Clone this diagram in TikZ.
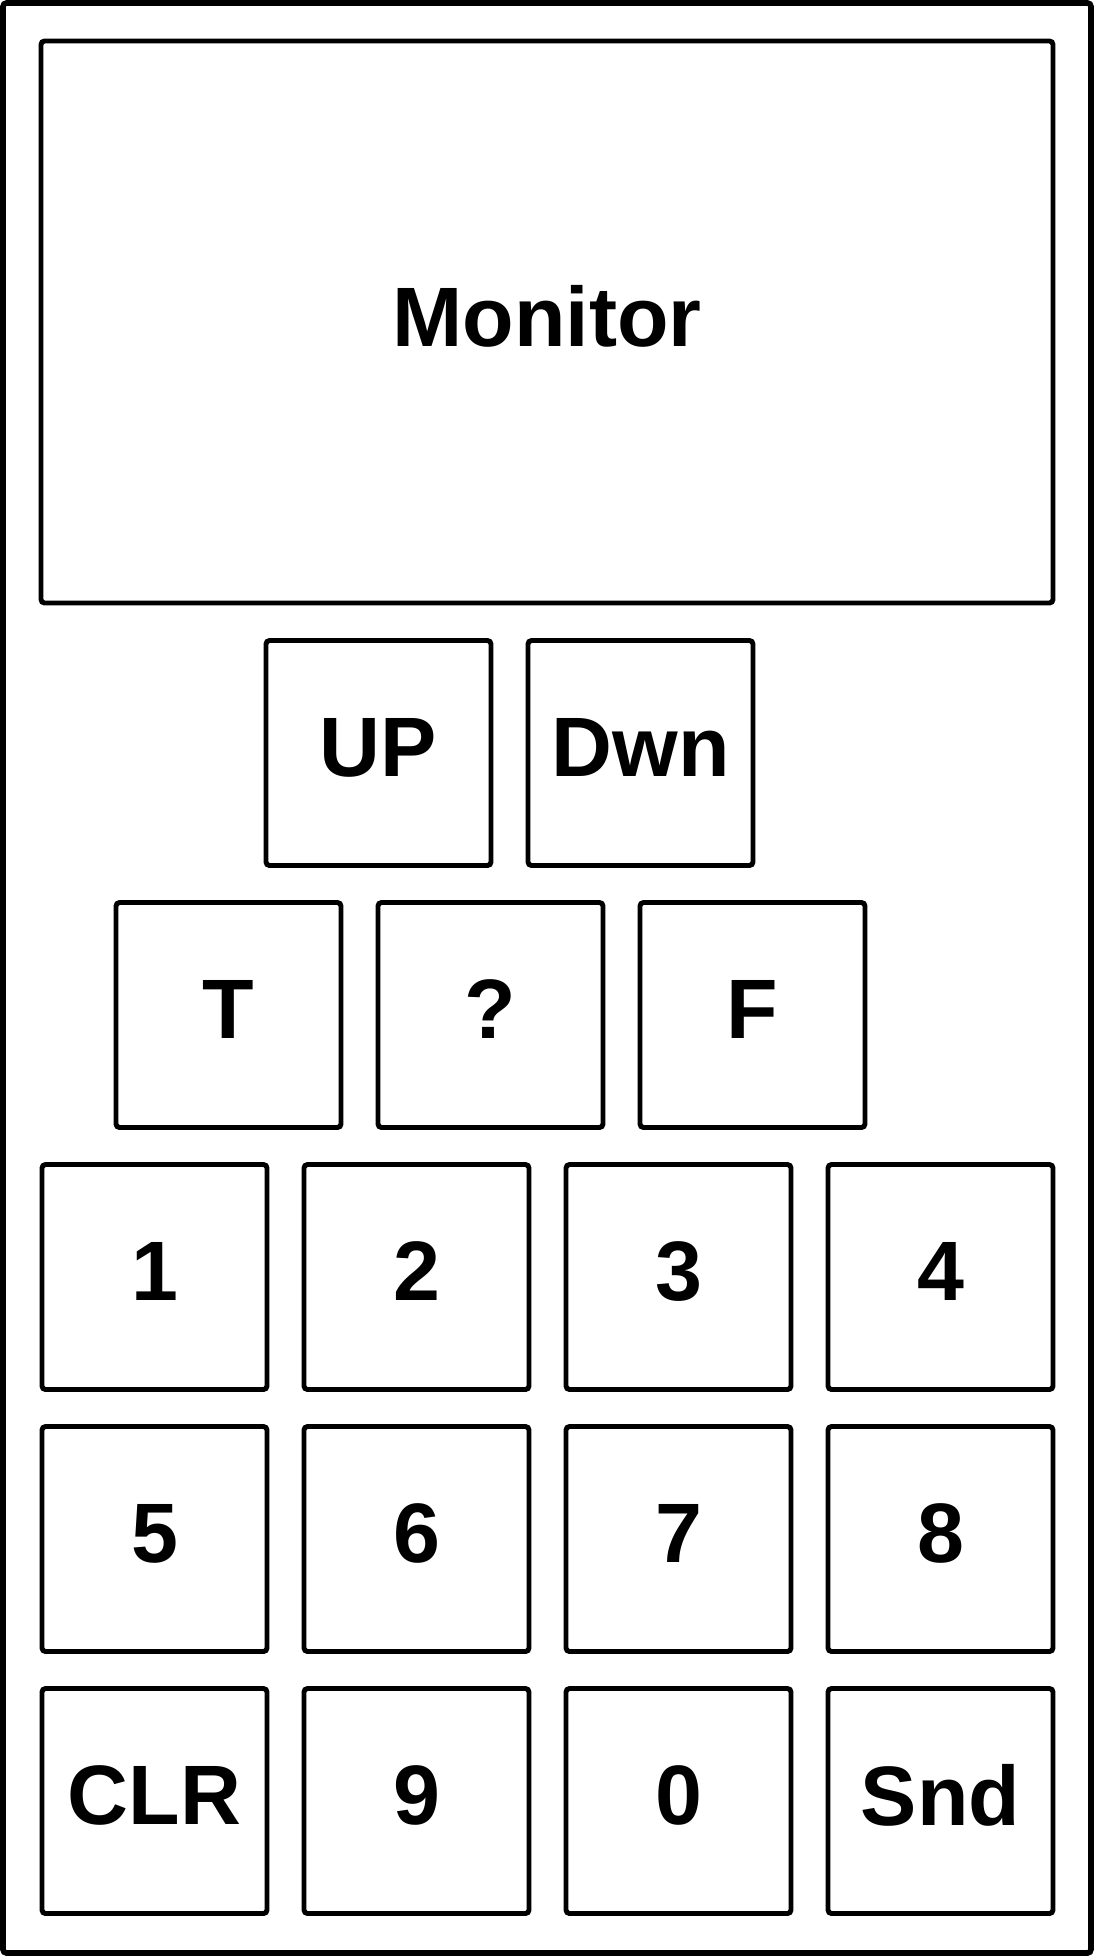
\documentclass[tikz,border=0pt]{standalone}
\usepackage{fontspec}
\setmainfont{Liberation Sans}
\usetikzlibrary{positioning}

\begin{document}
\begin{tikzpicture}[
  node distance=0.37cm and 0.37cm,
  every node/.style={draw, line width=1.4pt, rounded corners=1pt, outer sep=0pt,
    text depth=0.12cm, font=\fontsize{24}{28}\selectfont\bfseries},
  keybox/.style={minimum size=2.25cm, inner sep=0pt},
]
  \useasboundingbox (0,0) rectangle (10.94,-19.56);
  \draw[line width=1.6pt, rounded corners=1pt] (0.03,-0.03) rectangle (10.91,-19.53);

  \node (monitor) [minimum width=10.12cm, minimum height=5.62cm] at (5.47,-3.22) {Monitor};

  \node (up)  [keybox] at (3.785,-7.53) {UP};
  \node (dwn) [keybox, right=of up] {Dwn};

  \node (t)   [keybox] at (2.285,-10.15) {T};
  \node (q)   [keybox, right=of t] {?};
  \node (f)   [keybox, right=of q] {F};

  \node (k1)  [keybox] at (1.545,-12.77) {1};
  \node (k2)  [keybox, right=of k1] {2};
  \node (k3)  [keybox, right=of k2] {3};
  \node (k4)  [keybox, right=of k3] {4};

  \node (k5)  [keybox, below=of k1] {5};
  \node (k6)  [keybox, right=of k5] {6};
  \node (k7)  [keybox, right=of k6] {7};
  \node (k8)  [keybox, right=of k7] {8};

  \node (clr) [keybox, below=of k5] {CLR};
  \node (k9)  [keybox, right=of clr] {9};
  \node (k0)  [keybox, right=of k9] {0};
  \node (snd) [keybox, right=of k0] {Snd};
\end{tikzpicture}
\end{document}
